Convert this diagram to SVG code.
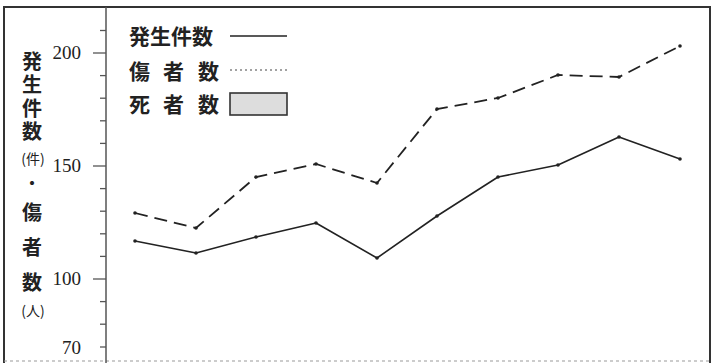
<svg xmlns="http://www.w3.org/2000/svg" width="713" height="363" viewBox="0 0 713 363">
<style>
.frame{fill:none;stroke:#333;stroke-width:2}
.axis{stroke:#555;stroke-width:1.5;fill:none}
.tick{stroke:#555;stroke-width:1.3}
.num{font-family:"Liberation Serif",serif;font-size:19px;fill:#222;text-anchor:end}
.vt{font-family:"Noto Sans CJK JP","Noto Sans CJK SC",sans-serif;font-size:20px;fill:#222;font-weight:bold;writing-mode:vertical-rl}
.jp{font-family:"Noto Sans CJK JP","Noto Sans CJK SC",sans-serif;font-size:16px;fill:#222;text-anchor:middle;font-weight:bold}
.small{font-family:"Noto Sans CJK JP",sans-serif;font-size:14px;fill:#222;text-anchor:middle}
.leg{font-family:"Noto Sans CJK JP","Noto Sans CJK SC",sans-serif;font-size:21px;fill:#222;font-weight:bold}
.solid{fill:none;stroke:#222;stroke-width:1.6;stroke-linejoin:round}
.dash{fill:none;stroke:#222;stroke-width:1.8;stroke-dasharray:13 7}
.pt{fill:#222}
</style>
<g id="frame">
<path class="frame" d="M4,363 V7 H710 V363"/>
<line x1="4" y1="361" x2="710" y2="361" stroke="#999" stroke-width="1.2" stroke-dasharray="3 3"/>
</g>
<g id="y-axis">
<line class="axis" x1="106" y1="7" x2="106" y2="363"/>
<line class="tick" x1="100" y1="30.5" x2="106" y2="30.5"/>
<line class="tick" x1="93" y1="53" x2="106" y2="53"/>
<line class="tick" x1="100" y1="75.6" x2="106" y2="75.6"/>
<line class="tick" x1="100" y1="98.2" x2="106" y2="98.2"/>
<line class="tick" x1="100" y1="120.8" x2="106" y2="120.8"/>
<line class="tick" x1="100" y1="143.4" x2="106" y2="143.4"/>
<line class="tick" x1="93" y1="166" x2="106" y2="166"/>
<line class="tick" x1="100" y1="188.6" x2="106" y2="188.6"/>
<line class="tick" x1="100" y1="211.2" x2="106" y2="211.2"/>
<line class="tick" x1="100" y1="233.8" x2="106" y2="233.8"/>
<line class="tick" x1="100" y1="256.4" x2="106" y2="256.4"/>
<line class="tick" x1="93" y1="279" x2="106" y2="279"/>
<line class="tick" x1="100" y1="301.6" x2="106" y2="301.6"/>
<line class="tick" x1="100" y1="324.2" x2="106" y2="324.2"/>
<line class="tick" x1="100" y1="347" x2="106" y2="347"/>
<text class="num" x="81" y="59">200</text>
<text class="num" x="81" y="172">150</text>
<text class="num" x="81" y="285">100</text>
<text class="num" x="81" y="354">70</text>
</g>
<g id="y-title">
<text class="vt" x="32" y="51" style="letter-spacing:3.5px">発生件数</text>
<text class="small" x="33" y="164">(件)</text>
<text class="jp" x="32" y="189">・</text>
<text class="vt" x="32" y="202" style="letter-spacing:15px">傷者数</text>
<text class="small" x="33" y="316">(人)</text>
</g>
<g id="legend">
<text class="leg" x="129" y="44">発生件数</text>
<line x1="230" y1="36" x2="287" y2="36" stroke="#222" stroke-width="1.6"/>
<text class="leg" x="129" y="79">傷</text>
<text class="leg" x="163" y="79">者</text>
<text class="leg" x="198" y="79">数</text>
<line x1="230" y1="70" x2="287" y2="70" stroke="#444" stroke-width="1.2" stroke-dasharray="2 3"/>
<text class="leg" x="129" y="112">死</text>
<text class="leg" x="163" y="112">者</text>
<text class="leg" x="198" y="112">数</text>
<rect x="230" y="93" width="57" height="22" fill="#ddd" stroke="#333" stroke-width="1.6"/>
</g>
<g id="connectors">
<polyline class="solid" points="135,241 196,253 256,237 316,223 377,258 437,216 498,177 558,165 619,137 680,159"/>
<polyline class="dash" points="135,213 196,228 256,177 316,164 377,183 437,109 498,98 558,75 619,77 680,46"/>
</g>
<g id="points">
<circle class="pt" cx="135" cy="241" r="1.8"/><circle class="pt" cx="196" cy="253" r="1.8"/><circle class="pt" cx="256" cy="237" r="1.8"/><circle class="pt" cx="316" cy="223" r="1.8"/><circle class="pt" cx="377" cy="258" r="1.8"/><circle class="pt" cx="437" cy="216" r="1.8"/><circle class="pt" cx="498" cy="177" r="1.8"/><circle class="pt" cx="558" cy="165" r="1.8"/><circle class="pt" cx="619" cy="137" r="1.8"/><circle class="pt" cx="680" cy="159" r="1.8"/>
<circle class="pt" cx="135" cy="213" r="1.8"/><circle class="pt" cx="196" cy="228" r="1.8"/><circle class="pt" cx="256" cy="177" r="1.8"/><circle class="pt" cx="316" cy="164" r="1.8"/><circle class="pt" cx="377" cy="183" r="1.8"/><circle class="pt" cx="437" cy="109" r="1.8"/><circle class="pt" cx="498" cy="98" r="1.8"/><circle class="pt" cx="558" cy="75" r="1.8"/><circle class="pt" cx="619" cy="77" r="1.8"/><circle class="pt" cx="680" cy="46" r="1.8"/>
</g>
</svg>
